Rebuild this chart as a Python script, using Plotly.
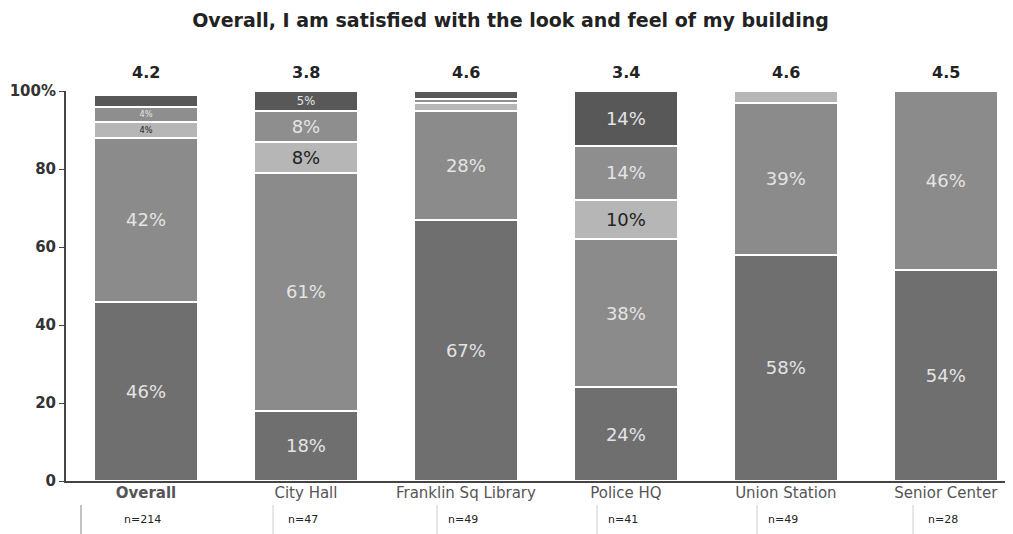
# Stacked satisfaction bars per building
import plotly.graph_objects as go

buildings = ["Overall", "City Hall", "Franklin Sq Library", "Police HQ", "Union Station", "Senior Center"]
mean_scores = ["4.2", "3.8", "4.6", "3.4", "4.6", "4.5"]
n_counts = ["n=214", "n=47", "n=49", "n=41", "n=49", "n=28"]

# percent of responses, bottom to top
strongly_agree = [46, 18, 67, 24, 58, 54]
agree = [42, 61, 28, 38, 39, 46]
neutral = [4, 8, 2, 10, 3, 0]
disagree = [4, 8, 1, 14, 0, 0]
strongly_disagree = [3, 5, 2, 14, 0, 0]

series = [
    ("Strongly agree", strongly_agree, "#6f6f6f", "#e4e4e4"),
    ("Agree", agree, "#8b8b8b", "#e4e4e4"),
    ("Neutral", neutral, "#b6b6b6", "#222222"),
    ("Disagree", disagree, "#8e8e8e", "#e4e4e4"),
    ("Strongly disagree", strongly_disagree, "#585858", "#e4e4e4"),
]

fig = go.Figure()

for name, vals, color, txt_color in series:
    fig.add_trace(go.Bar(
        x=buildings, y=vals, name=name,
        width=0.65,
        marker=dict(color=color, line=dict(color="white", width=2)),
        text=[f"{v}%" if v >= 4 else "" for v in vals],
        textposition="inside", insidetextanchor="middle", textangle=0,
        textfont=dict(family="DejaVu Sans", size=18, color=txt_color),
        hoverinfo="x+y+name",
    ))

# mean score above each bar
for b, m in zip(buildings, mean_scores):
    fig.add_annotation(
        x=b, y=1, xref="x", yref="paper", yshift=30, showarrow=False,
        text=f"<b>{m}</b>", font=dict(family="DejaVu Sans", size=16, color="#222222"),
    )

# response count row under the axis
for b, n in zip(buildings, n_counts):
    fig.add_annotation(
        x=b, y=0, xref="x", yref="paper", yshift=-47, xshift=-3, showarrow=False,
        text=n, font=dict(family="DejaVu Sans", size=11, color="#222222"),
    )

for xp in [81, 273, 437, 597, 757, 913]:
    fig.add_shape(
        type="line", xref="paper", yref="paper",
        x0=(xp - 66) / 939, x1=(xp - 66) / 939, y0=-24 / 390, y1=-60 / 390,
        line=dict(color="#888888" if xp == 81 else "#cccccc", width=1),
    )

fig.update_layout(
    barmode="stack",
    title=dict(
        text="<b>Overall, I am satisfied with the look and feel of my building</b>",
        x=0.5, xanchor="center", y=0.977, yanchor="middle",
        font=dict(family="DejaVu Sans", size=19, color="#222222"),
    ),
    xaxis=dict(
        range=[-0.5, 5.37],
        tickvals=buildings,
        ticktext=["<b>Overall</b>"] + buildings[1:],
        tickfont=dict(family="DejaVu Sans", size=15, color="#555555"),
        ticklabelstandoff=-3,
        showline=True, linecolor="#444444", linewidth=2,
        ticks="", showgrid=False, automargin=False,
    ),
    yaxis=dict(
        range=[0, 100],
        tickvals=[0, 20, 40, 60, 80, 100],
        ticktext=["<b>0</b>", "<b>20</b>", "<b>40</b>", "<b>60</b>", "<b>80</b>", "<b>100%</b>"],
        tickfont=dict(family="DejaVu Sans", size=15, color="#333333"),
        showline=True, linecolor="#444444", linewidth=2,
        ticks="outside", ticklen=5, tickcolor="#444444",
        showgrid=False, zeroline=False, automargin=False,
    ),
    showlegend=False,
    plot_bgcolor="white",
    paper_bgcolor="white",
    width=1005,
    height=526,
    margin=dict(l=58, r=8, t=83, b=53),
)

fig.write_html("out.html")
